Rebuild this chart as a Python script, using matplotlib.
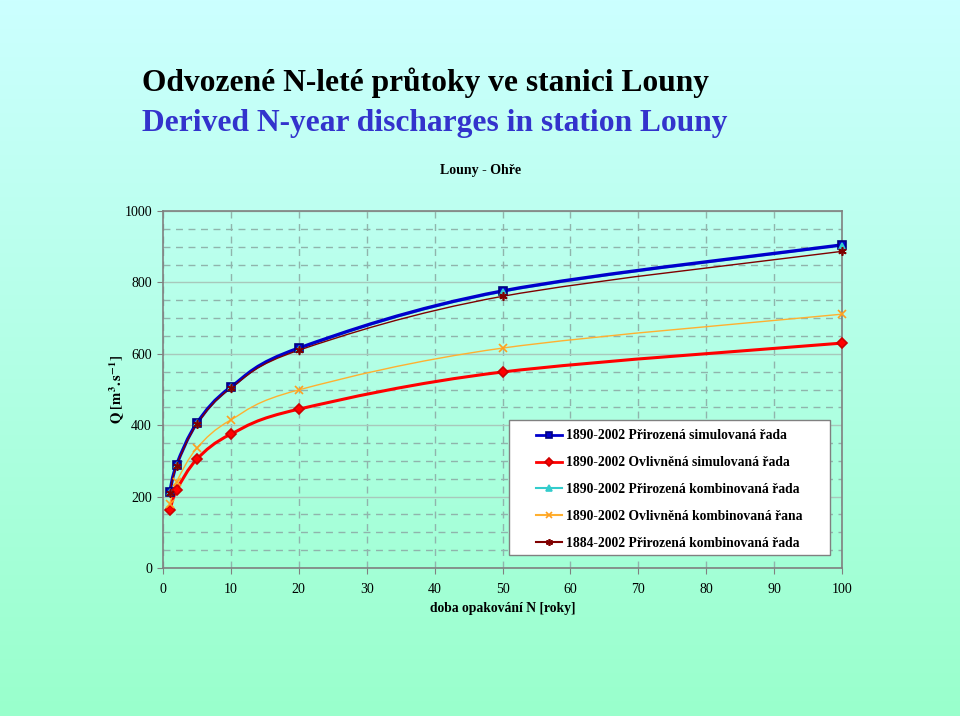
import matplotlib
matplotlib.use('Agg')
import matplotlib.pyplot as plt
import numpy as np
from matplotlib.path import Path
from matplotlib.patches import PathPatch, Rectangle
from matplotlib.lines import Line2D
from matplotlib.ticker import MultipleLocator
from matplotlib.colors import LinearSegmentedColormap

plt.rcParams['font.family'] = ['Liberation Serif', 'DejaVu Serif']
plt.rcParams['mathtext.fontset'] = 'stix'

# return periods N [years]
n_years = [1, 2, 5, 10, 20, 50, 100]

# discharges Q [m3/s]
q_prir_sim = [213, 289, 406, 507, 616, 776, 905]
q_ovl_sim = [162, 218, 305, 375, 445, 549, 630]
q_prir_komb = [212, 288, 405, 506, 614, 773, 903]
q_ovl_komb = [179, 241, 336, 415, 499, 616, 711]
q_prir_komb_1884 = [210, 287, 403, 504, 610, 761, 887]

labels = ['1890-2002 Přirozená simulovaná řada',
          '1890-2002 Ovlivněná simulovaná řada',
          '1890-2002 Přirozená kombinovaná řada',
          '1890-2002 Ovlivněná kombinovaná řana',
          '1884-2002 Přirozená kombinovaná řada']


def smooth_path(x, y):
    # Bezier path through the points (like the smoothed lines in Excel)
    p = np.column_stack([x, y]).astype(float)
    verts = [p[0]]
    codes = [Path.MOVETO]
    for i in range(len(p) - 1):
        p0 = p[i - 1] if i > 0 else p[i]
        p1 = p[i]
        p2 = p[i + 1]
        p3 = p[i + 2] if i + 2 < len(p) else p[i + 1]
        c1 = p1 + (p2 - p0) / 6.0
        c2 = p2 - (p3 - p1) / 6.0
        verts += [c1, c2, p2]
        codes += [Path.CURVE4] * 3
    return Path(verts, codes)


fig = plt.figure(figsize=(9.6, 7.16), dpi=100)

# background gradient
bg = fig.add_axes([0, 0, 1, 1], zorder=-10)
cmap = LinearSegmentedColormap.from_list('bg', ['#99ffcc', '#ccffff'])
bg.imshow(np.linspace(0, 1, 256).reshape(-1, 1), aspect='auto', cmap=cmap,
          origin='lower', extent=[0, 1, 0, 1])
bg.axis('off')

fig.text(0.148, 0.884, 'Odvozené N-leté průtoky ve stanici Louny', fontsize=22.7,
         fontweight='bold', color='black', va='center', ha='left')
fig.text(0.148, 0.828, 'Derived N-year discharges in station Louny', fontsize=22.7,
         fontweight='bold', color='#3333cc', va='center', ha='left')
fig.text(0.501, 0.762, 'Louny - Ohře', fontsize=10, fontweight='bold',
         ha='center', va='center')

ax = fig.add_axes([0.1698, 0.2067, 0.7073, 0.4986])
ax.set_facecolor('none')
ax.set_xlim(0, 100)
ax.set_ylim(0, 1000)
ax.xaxis.set_major_locator(MultipleLocator(10))
ax.yaxis.set_major_locator(MultipleLocator(200))
ax.yaxis.set_minor_locator(MultipleLocator(50))

ax.yaxis.grid(True, which='major', color='#a8c8bc', linewidth=1, linestyle='-')
ax.yaxis.grid(True, which='minor', color='#90b4ac', linewidth=1, linestyle=(0, (5, 4)))
ax.xaxis.grid(True, which='major', color='#90b4ac', linewidth=1, linestyle=(0, (5, 4)))
ax.set_axisbelow(True)
for s in ax.spines.values():
    s.set_color('#808080')
    s.set_linewidth(1.2)

ax.tick_params(which='major', length=4, color='#808080', labelsize=10)
ax.tick_params(which='minor', length=0)
ax.tick_params(axis='y', pad=4)
ax.tick_params(axis='x', pad=7)

series = [
    (q_prir_sim, dict(color='#0000cc', lw=2.4, marker='s', ms=6, mfc='#0000cc', mec='#000080', z=5)),
    (q_ovl_sim, dict(color='#ff0000', lw=2.2, marker='D', ms=5.5, mfc='#ff0000', mec='#cc0000', z=5)),
    (q_prir_komb, dict(color='#33cccc', lw=1.0, marker='^', ms=5, mfc='#33cccc', mec='#33cccc', z=3)),
    (q_ovl_komb, dict(color='#ffb030', lw=1.0, marker='x', ms=6, mfc='none', mec='#ffa020', z=6)),
    (q_prir_komb_1884, dict(color='#800000', lw=1.0, marker=(6, 2, 0), ms=6, mfc='none', mec='#800000', z=6)),
]

handles = []
for i, (vals, st) in enumerate(series):
    patch = PathPatch(smooth_path(n_years, vals), facecolor='none', edgecolor=st['color'],
                      lw=st['lw'], transform=ax.transData, zorder=st['z'], clip_on=False)
    ax.add_patch(patch)
    ax.plot(n_years, vals, linestyle='none', marker=st['marker'], ms=st['ms'],
            mfc=st['mfc'], mec=st['mec'], mew=1.2, zorder=7 + i, clip_on=False)
    handles.append(Line2D([], [], color=st['color'], lw=2 if st['lw'] > 2 else 1.5,
                          marker=st['marker'], ms=st['ms'] - 1, mfc=st['mfc'],
                          mec=st['mec'], mew=1.2))

# legend frame
ax.add_patch(Rectangle((0.51, 0.036), 0.472, 0.379, transform=ax.transAxes,
                       facecolor='white', edgecolor='#808080', lw=1, zorder=20))
leg = ax.legend(handles, labels, loc='upper left', bbox_to_anchor=(0.549, 0.388),
                frameon=False, prop=dict(weight='bold', size=9.8), labelspacing=1.02,
                handlelength=1.9, handletextpad=0.3, borderpad=0, borderaxespad=0)
leg.set_zorder(21)

ax.set_xlabel('doba opakování N [roky]', fontsize=9.8, fontweight='bold', labelpad=4)
ax.set_ylabel(r'$\mathbf{Q\ [m^3.s^{-1}]}$', fontsize=10.5, labelpad=-2)

fig.savefig('out.png', dpi=100)
